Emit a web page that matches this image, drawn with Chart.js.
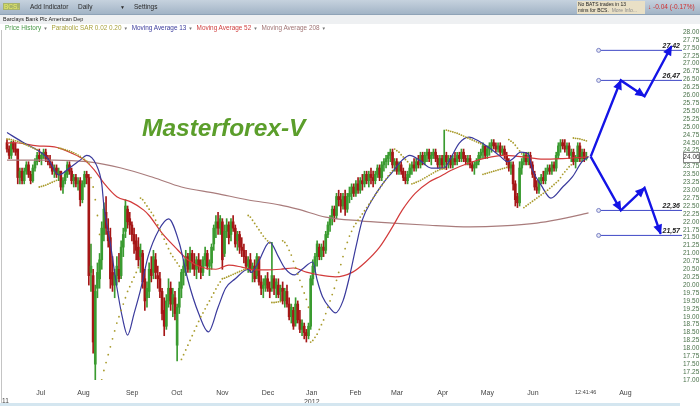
<!DOCTYPE html>
<html>
<head>
<meta charset="utf-8">
<title>BCS - Barclays Bank Plc American Dep</title>
<script src="https://cdn.jsdelivr.net/npm/chart.js@4.4.1/dist/chart.umd.min.js"></script>
<style>
  body { margin: 0; background: #fff; }
  #wrap { position: relative; width: 700px; height: 406px; overflow: hidden; font-family: "Liberation Sans", Arial, sans-serif; }
  #priceChart { position: absolute; left: 0; top: 0; }
  .abs { position: absolute; white-space: nowrap; }
  #toolbar { left: 0; top: 0; width: 700px; height: 14px; background: linear-gradient(#c6d2de, #a2b4c6); border-bottom: 1px solid #8fa3b7; }
  #toolbar span { position: absolute; top: 3px; font-size: 6.5px; color: #2a2a2a; }
  #symbol { left: 3px; padding: 0 1px; color: #eef266 !important; background: #a8b46a; }
  #subbar { left: 0; top: 15px; width: 700px; height: 9px; background: #eef0f2; font-size: 5.5px; color: #222; line-height: 9px; padding-left: 3px; }
  #legend { left: 5px; top: 24px; font-size: 6.4px; line-height: 8px; }
  #legend .dd { color: #777; font-size: 4.5px; margin: 0 2px; }
  #bats { left: 577px; top: 1px; width: 66px; height: 13px; background: #e9e0c6; font-size: 5px; line-height: 6px; color: #222; padding: 0 1px; }
  #change { left: 648px; top: 3px; font-size: 6.5px; color: #d03030; }
  #brand { left: 142px; top: 114px; font-size: 24.5px; font-weight: bold; font-style: italic; color: #5b9e2b; }
  #leftline { left: 1px; top: 30px; width: 1px; height: 376px; background: #c4c4c4; }
  #yr11 { left: 2px; top: 397px; font-size: 6.5px; color: #444; }
  #scroll { left: 0; top: 403px; width: 680px; height: 3px; background: #d4e6f0; }
</style>
</head>
<body>
<div id="wrap">
  <canvas id="priceChart" width="700" height="406"></canvas>
  <div id="toolbar" class="abs">
    <span id="symbol">BCS.</span>
    <span style="left:30px">Add Indicator</span>
    <span style="left:78px">Daily</span>
    <span style="left:120px;font-size:5px;top:4px">▼</span>
    <span style="left:134px">Settings</span>
  </div>
  <div id="subbar" class="abs">Barclays Bank Plc American Dep</div>
  <div id="legend" class="abs">
    <span style="color:#4a9a4a">Price History</span><span class="dd">▼</span>
    <span style="color:#a9a23e">Parabolic SAR 0.02 0.20</span><span class="dd">▼</span>
    <span style="color:#3c3c9c">Moving Average 13</span><span class="dd">▼</span>
    <span style="color:#d04040">Moving Average 52</span><span class="dd">▼</span>
    <span style="color:#a07474">Moving Average 208</span><span class="dd">▼</span>
  </div>
  <div id="bats" class="abs">No BATS trades in 13<br>mins for BCS.&nbsp; <span style="color:#888">More Info...</span></div>
  <div id="change" class="abs"><b>&#8595;</b> -0.04 (-0.17%)</div>
  <div id="brand" class="abs">Masterforex-V</div>
  <div id="leftline" class="abs"></div>
  <div id="yr11" class="abs">11</div>
  <div id="scroll" class="abs"></div>
</div>
<script>
// Daily bars, index 0 = first visible day (June 2011)
const opens = [
  24.5,24.3,24.1,24.5,24.3,24.3,23.4,23.6,23.3,23.6,
  23.8,23.5,23.3,23.7,23.9,24.1,24.0,24.1,24.2,24.0,
  23.9,23.8,23.6,23.7,23.5,23.6,23.1,23.3,23.5,23.8,
  23.6,23.3,23.4,23.2,23.3,22.7,23.2,23.5,23.4,20.4,
  20.3,17.5,19.9,20.2,20.8,21.6,22.3,21.7,21.5,20.4,
  20.0,20.3,20.5,20.3,21.2,21.7,22.4,22.1,21.9,21.6,
  21.4,21.2,20.9,21.0,20.2,19.6,19.8,20.5,20.4,20.8,
  20.3,20.2,19.8,19.2,18.7,19.5,19.9,19.4,19.6,18.1,
  19.3,19.9,20.4,20.6,20.9,20.5,21.0,20.7,20.5,20.8,
  20.6,20.4,20.8,21.0,20.6,20.7,21.3,21.8,22.0,21.8,
  22.0,21.0,21.7,21.9,21.6,22.0,21.8,21.4,21.6,21.2,
  21.1,20.9,20.6,20.8,20.5,20.6,20.3,20.8,20.1,19.9,
  20.0,20.2,19.9,19.9,20.2,19.9,20.0,19.8,19.9,19.5,
  19.8,19.4,19.0,19.2,18.8,19.4,18.9,18.6,18.7,18.5,
  18.4,18.7,20.2,20.6,20.9,21.2,20.9,21.2,21.1,21.6,
  21.9,22.1,22.4,22.2,22.8,22.7,22.5,22.8,22.4,22.8,
  22.9,23.1,22.9,23.2,23.0,23.3,23.2,23.5,23.3,23.5,
  23.4,23.3,23.5,23.7,23.4,23.8,23.9,24.0,24.1,24.2,
  23.8,23.9,23.6,23.8,23.6,23.4,23.3,23.5,23.7,23.8,
  23.7,23.9,23.8,24.1,23.9,24.1,24.2,24.0,24.1,24.2,
  24.0,23.8,24.0,23.8,24.1,23.9,24.0,23.8,24.0,23.9,
  24.1,24.0,24.2,24.0,23.9,24.0,23.8,23.7,23.8,23.9,
  24.1,24.2,24.4,24.1,24.3,24.4,24.5,24.4,24.3,24.4,
  24.2,24.3,24.1,23.9,23.7,23.8,23.2,22.8,22.6,23.7,
  23.9,24.1,23.9,24.1,23.8,23.5,23.1,23.0,23.3,23.4,
  23.3,23.6,23.7,23.6,23.8,23.7,24.1,24.4,24.5,24.4,
  24.3,24.4,24.1,24.2,23.9,24.0,24.4,24.0,24.2,24.0
];
const highs = [
  24.6,24.4,24.55,24.55,24.5,24.3,23.7,23.7,23.7,23.9,
  23.9,23.6,23.8,24.0,24.2,24.3,24.2,24.3,24.3,24.1,
  24.1,23.9,23.8,23.8,23.7,23.6,23.4,23.6,23.9,23.9,
  23.7,23.5,23.5,23.4,23.4,23.3,23.6,23.6,23.5,21.3,
  20.5,20.0,20.7,21.0,22.0,22.6,22.8,22.1,21.8,20.9,
  20.5,20.9,21.0,21.4,21.8,22.7,22.5,22.3,22.0,21.8,
  21.6,21.5,21.3,21.1,20.5,20.1,20.7,20.9,21.1,21.0,
  20.6,20.4,19.9,19.6,19.7,20.2,20.1,19.9,19.8,19.4,
  20.1,20.5,20.8,21.1,21.0,21.2,21.1,21.0,20.9,21.0,
  20.8,20.9,21.2,21.1,20.8,21.3,21.9,22.2,22.3,22.2,
  22.1,21.9,22.1,22.0,22.1,22.2,21.9,21.7,21.7,21.5,
  21.3,21.1,20.9,21.0,20.7,20.8,21.0,20.9,20.3,20.2,
  20.3,20.4,20.1,21.35,20.3,20.2,20.2,20.0,20.1,19.9,
  20.0,19.6,19.4,19.3,19.6,19.5,19.2,18.9,18.8,18.6,
  18.8,20.3,20.8,21.0,21.4,21.3,21.3,21.4,21.7,22.0,
  22.2,22.5,22.5,22.9,23.0,22.9,22.9,23.0,22.9,23.1,
  23.2,23.2,23.3,23.4,23.4,23.5,23.6,23.6,23.6,23.7,
  23.6,23.6,23.8,23.8,23.9,24.0,24.1,24.2,24.3,24.3,
  24.0,24.0,23.9,23.9,23.7,23.6,23.6,23.8,23.9,24.0,
  24.0,24.1,24.2,24.2,24.2,24.3,24.3,24.2,24.3,24.3,
  24.1,24.1,24.1,24.9,24.2,24.1,24.1,24.1,24.2,24.2,
  24.2,24.3,24.3,24.1,24.1,24.1,23.9,23.9,24.0,24.2,
  24.3,24.5,24.4,24.4,24.5,24.6,24.6,24.5,24.5,24.5,
  24.4,24.4,24.2,24.0,23.9,23.9,23.3,22.9,23.9,24.0,
  24.2,24.2,24.2,24.2,23.9,23.6,23.3,23.4,23.5,23.6,
  23.7,23.8,23.8,23.9,23.9,24.2,24.5,24.6,24.6,24.6,
  24.5,24.5,24.3,24.3,24.1,24.5,24.5,24.3,24.3,24.2
];
const lows = [
  24.2,24.0,24.0,24.2,24.1,23.2,23.2,23.2,23.2,23.5,
  23.4,23.2,23.25,23.6,23.8,23.9,23.8,24.0,23.9,23.8,
  23.7,23.5,23.4,23.4,23.3,23.0,22.9,23.2,23.4,23.5,
  23.2,23.1,23.1,23.0,22.5,22.6,23.1,23.2,20.0,19.8,
  17.85,17.0,19.6,19.9,20.5,21.4,21.6,21.2,19.9,19.8,
  19.6,20.0,20.1,20.2,20.9,21.5,21.8,21.6,21.4,21.0,
  20.8,20.6,20.4,19.9,19.2,19.3,19.6,20.1,20.2,20.2,
  19.9,19.6,18.9,18.4,18.6,19.3,19.2,19.0,18.9,17.6,
  19.1,19.6,20.0,20.3,20.4,20.4,20.5,20.3,20.2,20.4,
  20.2,20.3,20.6,20.5,20.3,20.5,21.1,21.5,21.6,21.6,
  20.5,20.9,21.5,21.3,21.4,21.7,21.2,21.1,21.0,20.9,
  20.7,20.5,20.4,20.4,20.1,20.1,20.2,20.0,19.7,19.6,
  19.8,19.8,19.6,19.8,19.7,19.6,19.6,19.5,19.4,19.3,
  19.3,18.9,18.8,18.6,18.7,18.8,18.5,18.4,18.3,18.2,
  18.3,18.6,20.0,20.4,20.6,20.8,20.8,20.9,21.0,21.5,
  21.7,21.9,22.0,22.1,22.5,22.3,22.4,22.2,22.3,22.6,
  22.7,22.8,22.8,22.9,22.9,23.0,23.1,23.2,23.1,23.2,
  23.1,23.2,23.4,23.3,23.3,23.6,23.7,23.8,23.9,23.7,
  23.6,23.5,23.5,23.5,23.3,23.2,23.2,23.4,23.5,23.6,
  23.6,23.7,23.7,23.8,23.8,23.9,23.9,23.8,24.0,23.9,
  23.7,23.7,23.7,23.7,23.65,23.7,23.7,23.7,23.8,23.8,
  23.9,23.9,23.9,23.8,23.8,23.7,23.6,23.5,23.7,23.8,
  24.0,24.0,24.0,24.0,24.1,24.2,24.3,24.2,24.2,24.1,
  24.1,24.0,23.8,23.6,23.5,23.0,22.5,22.45,22.5,23.5,
  23.8,23.8,23.8,23.7,23.4,23.0,22.9,22.9,23.2,23.2,
  23.2,23.5,23.5,23.5,23.6,23.6,24.0,24.2,24.3,24.2,
  24.1,24.0,23.9,23.8,23.7,23.9,23.9,23.9,23.9,23.95
];
const closes = [
  24.3,24.1,24.5,24.3,24.2,23.4,23.6,23.3,23.6,23.8,
  23.5,23.3,23.7,23.9,24.1,24.0,24.1,24.2,24.0,23.9,
  23.8,23.6,23.7,23.5,23.6,23.1,23.3,23.5,23.8,23.6,
  23.3,23.4,23.2,23.3,22.7,23.2,23.5,23.4,20.3,20.6,
  18.2,19.8,20.4,20.8,21.8,22.4,21.8,21.4,20.2,20.0,
  20.3,20.6,20.2,21.2,21.6,22.5,22.0,21.9,21.6,21.3,
  21.1,20.8,21.1,20.1,19.5,19.9,20.5,20.3,20.9,20.4,
  20.2,19.8,19.1,18.7,19.5,19.9,19.4,19.7,19.1,19.3,
  19.9,20.4,20.6,20.9,20.5,21.0,20.7,20.5,20.8,20.6,
  20.4,20.8,21.0,20.6,20.7,21.2,21.8,22.0,21.8,22.1,
  20.8,21.7,21.9,21.5,22.0,21.8,21.3,21.6,21.2,21.1,
  20.9,20.6,20.8,20.5,20.6,20.2,20.9,20.1,19.9,20.0,
  20.2,19.9,19.8,20.3,19.9,20.1,19.7,19.9,19.5,19.8,
  19.4,19.0,19.3,18.7,19.4,18.9,18.6,18.8,18.5,18.4,
  18.7,20.2,20.6,20.9,21.3,20.9,21.2,21.1,21.6,21.9,
  22.1,22.4,22.2,22.8,22.7,22.5,22.8,22.4,22.8,22.9,
  23.1,22.9,23.2,23.0,23.3,23.2,23.5,23.3,23.5,23.4,
  23.3,23.5,23.7,23.4,23.8,23.9,24.0,24.1,24.2,23.8,
  23.9,23.6,23.8,23.6,23.4,23.3,23.5,23.7,23.8,23.7,
  23.9,23.8,24.1,23.9,24.1,24.2,24.0,24.1,24.2,24.0,
  23.8,24.0,23.8,24.1,23.9,24.0,23.8,24.0,23.9,24.1,
  24.0,24.2,24.0,23.9,24.0,23.8,23.7,23.8,23.9,24.1,
  24.2,24.4,24.1,24.3,24.4,24.5,24.4,24.3,24.4,24.2,
  24.3,24.1,23.9,23.7,23.8,23.2,22.7,22.6,23.7,23.9,
  24.1,23.9,24.1,23.8,23.5,23.1,23.0,23.3,23.4,23.3,
  23.6,23.7,23.6,23.8,23.7,24.1,24.4,24.5,24.4,24.3,
  24.4,24.1,24.2,23.9,24.0,24.4,24.0,24.2,24.0,24.06
];
// Parabolic SAR 0.02 0.20, one dot per bar
const sar = [
  24.62,24.61,24.60,24.58,24.56,24.54,24.52,24.49,24.46,24.43,24.40,24.37,24.34,24.31,24.28,
  23.10,23.12,23.14,23.16,23.19,23.22,23.25,23.28,23.31,
  24.33,24.32,24.30,24.28,24.26,24.24,24.21,24.18,24.15,24.11,24.07,24.02,23.97,23.92,
  23.85,23.4,23.1,22.7,22.2,21.6,
  17.0,17.3,17.55,17.8,18.05,18.3,18.55,18.8,19.0,19.2,19.4,19.6,19.8,19.95,20.1,20.25,20.4,20.55,
  22.75,22.7,22.6,22.5,22.4,22.3,22.2,22.05,21.9,21.75,21.6,21.45,21.3,21.15,21.0,20.9,20.8,20.7,20.6,
  17.65,17.8,17.95,18.1,18.25,18.4,18.55,18.7,18.85,19.0,19.12,19.25,19.38,19.5,19.62,19.75,
  19.88,20.0,20.1,20.2,20.22,20.25,20.28,20.31,20.34,20.37,20.4,20.43,20.46,20.49,20.5,
  22.2,22.15,22.05,21.95,21.85,21.75,21.65,21.55,21.47,21.4,21.33,
  19.45,19.45,19.46,19.47,19.48,
  21.4,21.35,21.25,21.1,20.95,20.75,20.55,20.35,20.15,19.95,19.75,19.55,19.3,
  18.2,18.25,18.35,18.45,18.6,18.75,18.9,19.1,19.3,19.5,19.7,19.9,20.15,20.4,20.65,20.9,21.15,
  21.35,21.55,21.7,21.85,21.95,22.05,22.15,22.25,22.35,22.45,22.55,22.65,22.75,22.85,22.95,
  23.05,23.15,23.25,23.35,23.45,23.55,23.62,
  24.3,24.25,24.2,24.12,24.05,23.97,23.9,23.82,
  23.2,23.22,23.25,23.28,23.31,23.35,23.39,23.43,23.47,23.51,23.55,23.59,23.62,23.65,23.67,23.68,
  24.9,24.88,24.86,24.84,24.82,24.8,24.77,24.74,24.71,24.68,24.65,24.62,24.59,24.56,24.53,24.5,24.47,
  23.5,23.52,23.54,23.56,23.58,23.6,23.62,23.64,23.66,23.68,23.7,23.72,
  24.6,24.55,24.5,24.42,24.33,24.24,24.15,
  22.45,22.5,22.55,22.6,22.65,22.7,22.75,22.8,22.85,22.9,22.95,23.0,23.06,23.12,23.18,23.24,
  23.3,23.4,23.5,23.58,23.66,23.74,23.8,
  24.65,24.64,24.63,24.62,24.6,24.58,24.56
];
// Moving averages (bar index, price)
const ma13X = [0,8,14,19,24,29,34,37,41.5,44,45,48,51,53.5,56,59,62,65.5,70.5,75,80,84,89,93.5,98,101.5,106,112,113.5,116.5,122,126,129,133.5,137,142,144,146.5,150,152.5,156,159,162,165,169.5,174,179,183.5,187,191.5,197,203,205.5,210,214.5,219.5,224,228.5,232.5,235,238.5,242,244,248,252.5,258,262.5,267,270];
const ma13Y = [24.82,24.49,24.27,24.0,23.48,23.7,23.95,24.1,23.8,23.2,22.5,21.3,19.94,19.0,18.42,19.1,19.85,20.9,21.74,22.09,21.33,20.16,19.1,18.52,19.3,19.9,20.2,20.5,20.4,20.7,21.36,20.9,20.54,20.32,20.5,20.73,20.16,19.63,19.27,19.12,19.5,20.26,21.2,22.06,22.69,23.16,23.58,23.95,24.1,23.95,23.7,23.7,23.95,24.49,24.68,24.53,24.33,24.1,23.9,24.0,24.2,24.15,23.64,23.16,22.75,23.1,23.42,23.9,24.06];
const ma52X = [0,4,14,22,30,36,40.5,45,51,57.5,63.5,66,72,78,84,90,97,103,109,115,121,127,133,139,145,152.5,160.5,166.5,173,179,183.5,189.5,196,201.5,206,214.5,222.5,230.5,239.5,249,258,270];
const ma52Y = [24.49,24.5,24.4,24.37,24.17,23.95,23.64,23.22,22.79,22.63,22.37,22.2,21.64,21.2,20.8,20.57,20.5,20.63,20.57,20.48,20.48,20.5,20.54,20.41,20.32,20.26,20.41,20.73,21.2,21.84,22.37,22.9,23.26,23.45,23.62,23.86,24.02,24.1,24.05,23.98,24.0,24.05];
const ma208X = [0,22,37,53,68,81,97,112,127,135,148,164,179,194,215,230,246,255,270];
const ma208Y = [23.95,23.95,23.9,23.7,23.4,23.1,22.9,22.69,22.53,22.4,22.15,22.03,21.96,21.9,21.84,21.87,21.96,22.06,22.28];
// Projection arrows and target levels
const projUpX = [271, 285, 296, 308.5];
const projUpY = [24.06, 26.47, 25.97, 27.55];
const projDownX = [271, 285, 296, 303.5];
const projDownY = [24.06, 22.36, 23.07, 21.62];
const levels = [27.42, 26.47, 22.36, 21.57];
const levelLabels = ['27,42', '26,47', '22,36', '21,57'];
const levelStart = 274.7;
// Axis ticks
const monthPos = [15.7, 35.5, 58.1, 78.8, 100, 121.2, 141.5, 161.8, 181.1, 202.3, 223, 244.2, 268.7, 287.1];
const monthLabels = ['Jul','Aug','Sep','Oct','Nov','Dec',['Jan','2012'],'Feb','Mar','Apr','May','Jun','12:41:46','Aug'];
const priceTicks = [17.00,17.25,17.50,17.75,18.00,18.25,18.50,18.75,19.00,19.25,19.50,19.75,20.00,20.25,20.50,20.75,
  21.00,21.25,21.50,21.75,22.00,22.25,22.50,22.75,23.00,23.25,23.50,23.75,24.00,24.25,24.50,24.75,
  25.00,25.25,25.50,25.75,26.00,26.25,26.50,26.75,27.00,27.25,27.50,27.75,28.00];

const upColor = '#3a9b30', downColor = '#a51616', upLight = '#a3d497', downLight = '#e2a3a3';

function barColor(i) {
  const prev = i > 0 ? closes[i - 1] : opens[i];
  if (closes[i] >= opens[i]) return closes[i] >= prev ? upColor : downLight;
  return closes[i] < prev ? downColor : upLight;
}

const colorsByBar = closes.map((c, i) => barColor(i));
const pairs = (xs, ys) => xs.map((x, i) => ({ x: x, y: ys[i] }));

const datasets = [];

datasets.push({
  type: 'bar',
  label: 'wicks',
  data: highs.map((h, i) => ({ x: i, y: [lows[i], h] })),
  backgroundColor: colorsByBar,
  barThickness: 1,
  grouped: false,
  order: 10
});
datasets.push({
  type: 'bar',
  label: 'bodies',
  data: opens.map((o, i) => ({ x: i, y: [Math.min(o, closes[i]), Math.max(o, closes[i])] })),
  backgroundColor: colorsByBar,
  barThickness: 2,
  minBarLength: 1,
  grouped: false,
  order: 9
});

[[ma208X, ma208Y, '#a97c7c', 6], [ma52X, ma52Y, '#d23a3a', 5], [ma13X, ma13Y, '#3a3a9c', 4]].forEach(m => {
  datasets.push({
    type: 'line',
    data: pairs(m[0], m[1]),
    borderColor: m[2],
    borderWidth: 1.2,
    pointRadius: 0,
    cubicInterpolationMode: 'monotone',
    order: m[3]
  });
});

datasets.push({
  type: 'line',
  label: 'SAR',
  data: sar.map((v, i) => ({ x: i, y: v })),
  showLine: false,
  pointRadius: 0.9,
  pointBorderWidth: 0,
  pointBackgroundColor: '#a99b2c',
  order: 3
});

levels.forEach((lv, k) => {
  datasets.push({
    type: 'line',
    data: [{ x: levelStart, y: lv }, { x: 313.4, y: lv }],
    borderColor: '#3f48c6',
    borderWidth: 1,
    pointRadius: [2, 0],
    pointBackgroundColor: '#e4e6f4',
    pointBorderColor: '#7880c4',
    pointBorderWidth: 1,
    levelLabel: levelLabels[k],
    order: 2
  });
});

[[projUpX, projUpY], [projDownX, projDownY]].forEach(p => {
  datasets.push({
    type: 'line',
    data: pairs(p[0], p[1]),
    borderColor: '#1414e6',
    borderWidth: 2.4,
    pointRadius: 0,
    tension: 0,
    arrow: true,
    order: 1
  });
});

const overlayPlugin = {
  id: 'overlay',
  afterDatasetsDraw(chart) {
    const c = chart.ctx;
    chart.data.datasets.forEach((ds, di) => {
      const pts = chart.getDatasetMeta(di).data;
      if (ds.arrow) {
        for (let j = 1; j < pts.length; j++) {
          const a = pts[j - 1], b = pts[j];
          const ang = Math.atan2(b.y - a.y, b.x - a.x);
          c.save();
          c.translate(b.x, b.y);
          c.rotate(ang);
          c.beginPath();
          c.moveTo(1, 0);
          c.lineTo(-9, -4.5);
          c.lineTo(-9, 4.5);
          c.closePath();
          c.fillStyle = ds.borderColor;
          c.fill();
          c.restore();
        }
      }
      if (ds.levelLabel) {
        const end = pts[1];
        c.save();
        c.font = 'italic bold 7px "Liberation Sans", Arial';
        c.fillStyle = '#222';
        c.textAlign = 'right';
        c.textBaseline = 'bottom';
        c.fillText(ds.levelLabel, end.x - 2, end.y - 0.5);
        c.restore();
      }
    });
  },
  afterDraw(chart) {
    const c = chart.ctx;
    const last = closes[closes.length - 1];
    const y = chart.scales.y.getPixelForValue(last);
    const x0 = chart.chartArea.right + 1;
    c.save();
    c.fillStyle = '#fff';
    c.strokeStyle = '#888';
    c.lineWidth = 1;
    c.fillRect(x0, y - 5, 17, 10);
    c.strokeRect(x0 + 0.5, Math.round(y - 5) + 0.5, 16, 10);
    c.font = '6.5px "Liberation Sans", Arial';
    c.fillStyle = '#333';
    c.textAlign = 'center';
    c.textBaseline = 'middle';
    c.fillText(last.toFixed(2), x0 + 8.5, y + 0.5);
    c.restore();
  }
};

Chart.defaults.font.family = '"Liberation Sans", Arial, sans-serif';

new Chart(document.getElementById('priceChart').getContext('2d'), {
  type: 'bar',
  data: { datasets },
  options: {
    responsive: false,
    animation: false,
    layout: { padding: { top: 32, left: 0, right: 0, bottom: 0 } },
    plugins: { legend: { display: false }, tooltip: { enabled: false } },
    scales: {
      x: {
        type: 'linear',
        min: -0.92,
        max: 313.4,
        offset: false,
        afterBuildTicks: s => { s.ticks = monthPos.map(v => ({ value: v })); },
        afterFit: s => { s.height = 26; },
        ticks: {
          autoSkip: false,
          maxRotation: 0,
          padding: 9,
          color: '#444',
          font: ctx => ({ size: ctx.index === 12 ? 5.5 : 7 }),
          callback: (v, i) => monthLabels[i]
        },
        grid: { display: false, drawTicks: false },
        border: { display: false }
      },
      y: {
        position: 'right',
        min: 17,
        max: 28,
        afterBuildTicks: s => { s.ticks = priceTicks.map(v => ({ value: v })); },
        afterFit: s => { s.width = 18; },
        ticks: {
          autoSkip: false,
          padding: 1,
          color: '#4a724a',
          font: { size: 6.5 },
          callback: v => v.toFixed(2)
        },
        grid: { display: false, drawTicks: false },
        border: { display: false }
      }
    }
  },
  plugins: [overlayPlugin]
});
</script>
</body>
</html>
